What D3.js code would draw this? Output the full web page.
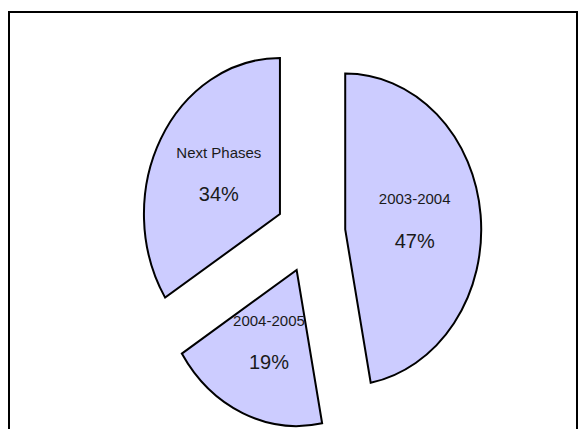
<!DOCTYPE html>
<html>
<head>
<meta charset="utf-8">
<script src="https://cdn.jsdelivr.net/npm/d3@7/dist/d3.min.js"></script>
<style>
  html, body { margin: 0; padding: 0; background: #fff; }
  svg { display: block; }
  text { font-family: "Liberation Sans", Arial, sans-serif; fill: #1a1a1a; }
</style>
</head>
<body>
<svg id="chart" width="579" height="429"></svg>
<script>
// Phase shares of the budget
const categories = ["2003-2004", "2004-2005", "Next Phases"];
const shares = [47, 19, 34];
const percentLabels = ["47%", "19%", "34%"];

const width = 579, height = 429;
const svg = d3.select("#chart");

// chart frame
svg.append("rect")
  .attr("x", 9).attr("y", 12)
  .attr("width", 568).attr("height", 440)
  .attr("fill", "none")
  .attr("stroke", "#000")
  .attr("stroke-width", 2);

// pie geometry: drawn as a circle then stretched horizontally into an ellipse
const cx = 310.5, cy = 233.3;
const radiusY = 156, radiusX = 136;
const kx = radiusX / radiusY;
const explode = 40;       // distance each slice is pulled out from the centre
const labelRadius = 80;   // label distance from the slice tip

const pie = d3.pie().sort(null).value(d => d)(shares);
const arc = d3.arc().innerRadius(0).outerRadius(radiusY);

const pieGroup = svg.append("g")
  .attr("transform", `translate(${cx},${cy}) scale(${kx},1)`);

const mid = d => (d.startAngle + d.endAngle) / 2;

pieGroup.selectAll("path")
  .data(pie)
  .join("path")
  .attr("transform", d => `translate(${explode * Math.sin(mid(d))},${-explode * Math.cos(mid(d))})`)
  .attr("d", arc)
  .attr("fill", "#ccccff")
  .attr("stroke", "#000")
  .attr("stroke-width", 2)
  .attr("stroke-linejoin", "miter")
  .attr("vector-effect", "non-scaling-stroke");

// data labels: category name above, percentage below
const labels = svg.append("g").selectAll("g")
  .data(pie)
  .join("g")
  .attr("transform", d => {
    const r = explode + labelRadius;
    const x = cx + kx * r * Math.sin(mid(d));
    const y = cy - r * Math.cos(mid(d)) - 2;
    return `translate(${x},${y})`;
  });

labels.append("text")
  .attr("text-anchor", "middle")
  .attr("y", -21)
  .attr("dy", "0.35em")
  .style("font-size", "15px")
  .text((d, i) => categories[i]);

labels.append("text")
  .attr("text-anchor", "middle")
  .attr("y", 21)
  .attr("dy", "0.35em")
  .style("font-size", "20px")
  .text((d, i) => percentLabels[i]);
</script>
</body>
</html>
